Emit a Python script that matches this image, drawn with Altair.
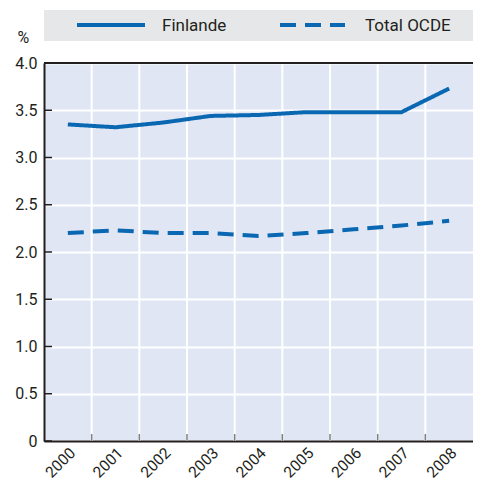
import altair as alt
import pandas as pd

years = ["2000", "2001", "2002", "2003", "2004", "2005", "2006", "2007", "2008"]
finlande = [3.35, 3.32, 3.37, 3.44, 3.45, 3.48, 3.48, 3.48, 3.73]
ocde = [2.20, 2.23, 2.20, 2.20, 2.17, 2.20, 2.24, 2.28, 2.33]
series = ["Finlande", "Total OCDE"]
y_ticks = [0, 0.5, 1.0, 1.5, 2.0, 2.5, 3.0, 3.5, 4.0]

W, H = 429, 378
FONT = "Roboto"
BLUE = "#0a68b2"
DARK = "#231f20"

df = pd.DataFrame(
    [{"year": y, "value": v, "series": series[0]} for y, v in zip(years, finlande)]
    + [{"year": y, "value": v, "series": series[1]} for y, v in zip(years, ocde)]
)
grid_df = pd.DataFrame({"year": years[1:]})
tick_df = pd.DataFrame({"value": y_ticks})
one = pd.DataFrame({"a": [0]})

xscale = alt.Scale(domain=years, paddingInner=0, paddingOuter=0)
yscale = alt.Scale(domain=[0, 4.0], nice=False)

x_axis = alt.Axis(
    title=None,
    labelAngle=-45,
    labelFont=FONT,
    labelFontSize=15.5,
    labelColor=DARK,
    labelPadding=4,
    ticks=False,
    grid=False,
    domainColor=DARK,
    domainWidth=2,
)
y_axis = alt.Axis(
    values=y_ticks,
    labelExpr="datum.value == 0 ? '0' : format(datum.value, '.1f')",
    title="%",
    titleAngle=0,
    titleAlign="left",
    titleBaseline="alphabetic",
    titleX=-27,
    titleY=-21,
    titleFont=FONT,
    titleFontSize=16,
    titleFontWeight="normal",
    titleColor=DARK,
    labelFont=FONT,
    labelFontSize=16,
    labelColor=DARK,
    labelPadding=7,
    ticks=False,
    grid=True,
    gridColor="white",
    gridWidth=2,
    domainColor=DARK,
    domainWidth=2,
)

# manual legend
legend_bg = alt.Chart(one).mark_rect(color="#e6e7e8").encode(
    x=alt.value(0), x2=alt.value(W), y=alt.value(-53), y2=alt.value(-22)
)
leg_solid = alt.Chart(one).mark_rule(color=BLUE, strokeWidth=4).encode(
    x=alt.value(33), x2=alt.value(101), y=alt.value(-38)
)
leg_dash = alt.Chart(one).mark_rule(color=BLUE, strokeWidth=4, strokeDash=[16, 9]).encode(
    x=alt.value(236), x2=alt.value(301), y=alt.value(-38)
)
leg_t1 = alt.Chart(one).mark_text(
    text=series[0], font=FONT, fontSize=17, color=DARK, align="left", baseline="alphabetic"
).encode(x=alt.value(118), y=alt.value(-32))
leg_t2 = alt.Chart(one).mark_text(
    text=series[1], font=FONT, fontSize=17, color=DARK, align="left", baseline="alphabetic"
).encode(x=alt.value(321), y=alt.value(-32))

vgrid = alt.Chart(grid_df).mark_rule(color="white", strokeWidth=2).encode(
    x=alt.X("year:O", scale=xscale, bandPosition=0, axis=x_axis)
)

lines = alt.Chart(df).mark_line(strokeWidth=4, color=BLUE).encode(
    x=alt.X("year:O", scale=xscale, axis=x_axis),
    y=alt.Y("value:Q", scale=yscale, axis=y_axis),
    strokeDash=alt.StrokeDash(
        "series:N",
        scale=alt.Scale(domain=series, range=[[1, 0], [16, 9]]),
        legend=None,
    ),
)

xticks = alt.Chart(grid_df).mark_rule(color="#808080", strokeWidth=1.5).encode(
    x=alt.X("year:O", scale=xscale, bandPosition=0, axis=x_axis),
    y=alt.value(H - 7),
    y2=alt.value(H),
)

yticks = alt.Chart(tick_df).mark_rule(color=DARK, strokeWidth=1.5).encode(
    y=alt.Y("value:Q", scale=yscale, axis=y_axis),
    x=alt.value(0),
    x2=alt.value(8),
)

top_border = alt.Chart(one).mark_rule(color=DARK, strokeWidth=2).encode(
    x=alt.value(0), x2=alt.value(W), y=alt.value(0)
)

chart = (
    alt.layer(legend_bg, leg_solid, leg_dash, leg_t1, leg_t2, vgrid, lines, xticks, yticks, top_border)
    .properties(
        width=W,
        height=H,
        autosize=alt.AutoSizeParams(type="none"),
        padding={"left": 36, "top": 55, "right": 0, "bottom": 40},
    )
    .configure_view(fill="#e0e6f4", stroke=None)
)

chart.save("out.html", embed_options={"renderer": "svg", "actions": False})
